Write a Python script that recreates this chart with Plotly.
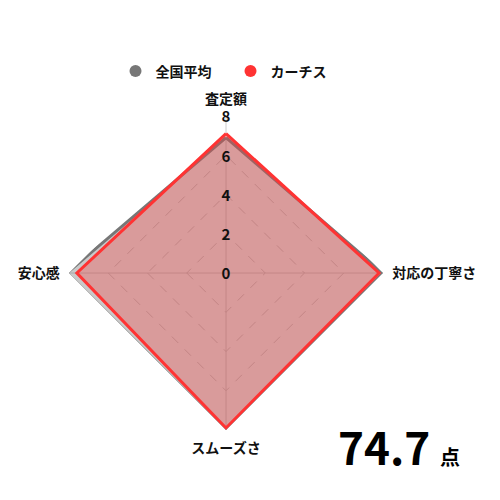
import plotly.graph_objects as go

# Axes du radar
categories = ['査定額', '対応の丁寧さ', 'スムーズさ', '安心感']

# Séries
series_names = ['全国平均', 'カーチス']
avg_values = [6.9, 8.0, 8.05, 8.1]
carchs_values = [7.1, 7.8, 7.9, 7.6]

tick_values = [0, 2, 4, 6, 8]
score_text = '74.7'
score_unit = '点'

FONT = 'Noto Sans CJK JP'

fig = go.Figure()

# ============================================
# Polygones
# ============================================
fig.add_trace(go.Scatterpolar(
    r=avg_values + avg_values[:1], theta=categories + categories[:1],
    mode='lines', fill='toself',
    line=dict(color='#777777', width=3),
    fillcolor='rgba(120,120,120,0.4)',
    showlegend=False, hoverinfo='skip'
))
fig.add_trace(go.Scatterpolar(
    r=carchs_values + carchs_values[:1], theta=categories + categories[:1],
    mode='lines', fill='toself',
    line=dict(color='#ff3333', width=3),
    fillcolor='rgba(255,51,51,0.3)',
    showlegend=False, hoverinfo='skip'
))

# Légende (cercles)
for name, color in zip(series_names, ['#777777', '#ff3333']):
    fig.add_trace(go.Scatterpolar(
        r=[None], theta=[categories[0]], mode='markers', name=name,
        marker=dict(symbol='circle', size=16, color=color)
    ))

# Graduations centrées sur l'axe vertical (sous-graphe transparent, grille circulaire
# pour que le 0 au centre soit affiché)
fig.add_trace(go.Scatterpolar(
    r=tick_values, theta=[categories[0]] * len(tick_values),
    mode='text', text=[str(v) for v in tick_values],
    textposition='middle center',
    textfont=dict(family=FONT, size=15, color='#111111', weight='bold'),
    subplot='polar2',
    showlegend=False, hoverinfo='skip'
))

fig.update_layout(
    width=500, height=500,
    margin=dict(l=0, r=0, t=0, b=0),
    paper_bgcolor='white',
    font=dict(family=FONT, color='#111111'),
    polar=dict(
        domain=dict(x=[0.122, 0.75], y=[0.156, 0.784]),
        bgcolor='rgba(0,0,0,0)',
        gridshape='linear',
        radialaxis=dict(
            range=[0, 8], tickvals=tick_values, showticklabels=False,
            showline=False, ticks='',
            gridcolor='#c8c8c8', griddash='dash', gridwidth=1,
            angle=90
        ),
        angularaxis=dict(
            categoryarray=categories, rotation=90, direction='clockwise',
            showline=False, ticks='outside', ticklen=6,
            tickcolor='rgba(0,0,0,0)',
            gridcolor='#cccccc', gridwidth=1,
            tickfont=dict(family=FONT, size=14, color='#111111', weight='bold')
        )
    ),
    polar2=dict(
        domain=dict(x=[0.122, 0.75], y=[0.151, 0.779]),
        bgcolor='rgba(0,0,0,0)',
        radialaxis=dict(range=[0, 8], visible=False),
        angularaxis=dict(
            categoryarray=categories, rotation=90, direction='clockwise',
            visible=False
        )
    ),
    legend=dict(
        orientation='h', x=0.445, xanchor='center', y=0.905, yanchor='top',
        bgcolor='rgba(0,0,0,0)',
        font=dict(family=FONT, size=14, color='#111111', weight='bold'),
        itemsizing='constant', entrywidth=70, entrywidthmode='pixels'
    ),
    annotations=[dict(
        x=0.782, y=0.124, xref='paper', yref='paper',
        xanchor='center', yanchor='middle', showarrow=False,
        text=f"<b>{score_text}</b> <b><span style='font-size:20px'>{score_unit}</span></b>",
        font=dict(family=FONT, size=44, color='#000000')
    )]
)

fig.write_html("out.html")
